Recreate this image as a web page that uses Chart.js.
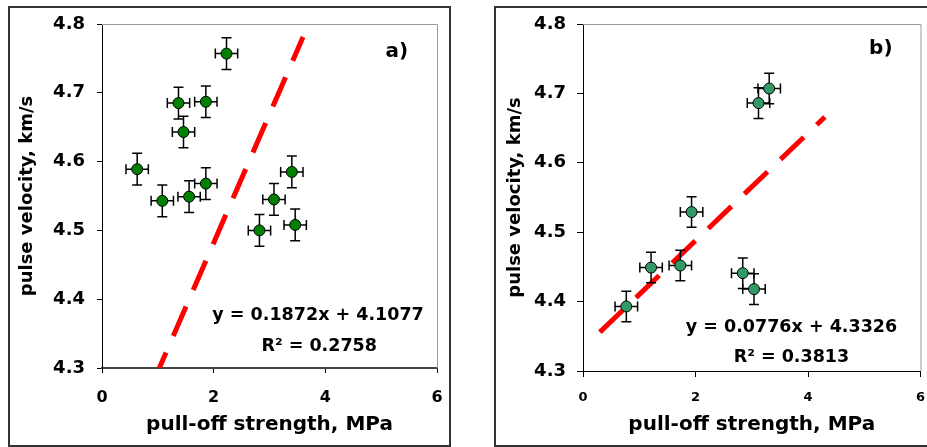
<!DOCTYPE html>
<html>
<head>
<meta charset="utf-8">
<script src="https://cdn.jsdelivr.net/npm/chart.js@4"></script>
<style>
html, body { margin: 0; padding: 0; background: #fff; overflow: hidden; }
body { width: 927px; height: 447px; position: relative; }
.frame { position: absolute; border: 2px solid #333; box-sizing: border-box; }
#frameA { left: 8px; top: 6px; width: 443px; height: 441px; }
#frameB { left: 494px; top: 6px; width: 500px; height: 441px; }
canvas { position: absolute; top: 0; }
#chartA { left: 0; }
#chartB { left: 460px; }
</style>
</head>
<body>
<div class="frame" id="frameA"></div>
<div class="frame" id="frameB"></div>
<canvas id="chartA" width="460" height="447"></canvas>
<canvas id="chartB" width="467" height="447"></canvas>
<script>
// axis ticks (same on both panels)
var xTicks = [0, 2, 4, 6];
var yTicks = [4.3, 4.4, 4.5, 4.6, 4.7, 4.8];

// panel a)
var strengthA = [2.23, 1.37, 1.86, 1.46, 0.63, 1.08, 1.56, 1.86, 2.82, 3.08, 3.40, 3.46];
var velocityA = [4.757, 4.685, 4.687, 4.643, 4.589, 4.543, 4.549, 4.568, 4.500, 4.545, 4.585, 4.508];
var errStrengthA = 0.2;
var errVelocityA = 0.023;
var trendXA = [1.027, 3.6];
var trendYA = [4.3, 4.781];

// panel b)
var strengthB = [3.31, 3.12, 1.93, 1.21, 1.73, 0.77, 2.84, 3.04];
var velocityB = [4.707, 4.686, 4.529, 4.449, 4.452, 4.393, 4.441, 4.418];
var errStrengthB = 0.2;
var errVelocityB = 0.022;
var trendXB = [0.3, 4.3];
var trendYB = [4.356, 4.666];

var FONT = "'DejaVu Sans', sans-serif";
Chart.defaults.font.family = FONT;
Chart.defaults.color = '#000';

function pts(xs, ys) {
	return xs.map(function (x, i) { return { x: x, y: ys[i] }; });
}

// gray top/right edge of the plot area
var plotFrame = {
	id: 'plotFrame',
	beforeDatasetsDraw: function (chart) {
		var a = chart.chartArea, ctx = chart.ctx;
		ctx.save();
		ctx.strokeStyle = '#999';
		ctx.lineWidth = 1;
		ctx.beginPath();
		ctx.moveTo(a.left, a.top + 0.5);
		ctx.lineTo(a.right + 0.5, a.top + 0.5);
		ctx.lineTo(a.right + 0.5, a.bottom);
		ctx.stroke();
		ctx.restore();
	}
};

// x/y error bars, drawn just before the markers
var errorBars = {
	id: 'errorBars',
	beforeDatasetDraw: function (chart, args, opts) {
		if (args.index !== 0) return;
		var sx = chart.scales.x, sy = chart.scales.y, ctx = chart.ctx, cap = 5;
		ctx.save();
		ctx.strokeStyle = '#000';
		ctx.lineWidth = 1.5;
		chart.data.datasets[0].data.forEach(function (p) {
			var px = sx.getPixelForValue(p.x), py = sy.getPixelForValue(p.y);
			var x0 = sx.getPixelForValue(p.x - opts.ex), x1 = sx.getPixelForValue(p.x + opts.ex);
			var y0 = sy.getPixelForValue(p.y - opts.ey), y1 = sy.getPixelForValue(p.y + opts.ey);
			ctx.beginPath();
			ctx.moveTo(x0, py); ctx.lineTo(x1, py);
			ctx.moveTo(px, y0); ctx.lineTo(px, y1);
			ctx.moveTo(x0, py - cap); ctx.lineTo(x0, py + cap);
			ctx.moveTo(x1, py - cap); ctx.lineTo(x1, py + cap);
			ctx.moveTo(px - cap, y0); ctx.lineTo(px + cap, y0);
			ctx.moveTo(px - cap, y1); ctx.lineTo(px + cap, y1);
			ctx.stroke();
		});
		ctx.restore();
	}
};

// panel letter and trendline equation
var notes = {
	id: 'notes',
	afterDatasetsDraw: function (chart, args, opts) {
		var sx = chart.scales.x, sy = chart.scales.y, ctx = chart.ctx;
		ctx.save();
		ctx.fillStyle = '#000';
		ctx.textAlign = 'center';
		ctx.textBaseline = 'middle';
		opts.items.forEach(function (n) {
			ctx.font = 'bold ' + n.size + 'px ' + FONT;
			ctx.fillText(n.text, sx.getPixelForValue(n.x), sy.getPixelForValue(n.y));
		});
		ctx.restore();
	}
};

function buildChart(id, p) {
	return new Chart(document.getElementById(id), {
		type: 'scatter',
		data: {
			datasets: [{
				data: pts(p.xs, p.ys),
				backgroundColor: p.color,
				borderColor: '#000',
				borderWidth: 1,
				pointRadius: 5.5
			}, {
				data: pts(p.trendX, p.trendY),
				showLine: true,
				borderColor: '#ff0000',
				borderWidth: 5,
				borderDash: [32, 18],
				borderDashOffset: p.dashOffset,
				pointRadius: 0
			}]
		},
		options: {
			responsive: false,
			animation: false,
			events: [],
			layout: { padding: { left: 0, top: 24, right: p.padRight, bottom: 0 } },
			plugins: {
				legend: { display: false },
				tooltip: { enabled: false },
				errorBars: { ex: p.errX, ey: p.errY },
				notes: { items: p.notes }
			},
			scales: {
				x: {
					type: 'linear', min: 0, max: 6,
					afterBuildTicks: function (s) { s.ticks = xTicks.map(function (v) { return { value: v }; }); },
					afterFit: function (s) { s.height = p.xHeight; s.paddingLeft = 0; s.paddingRight = 0; },
					grid: { drawOnChartArea: false, drawTicks: true, tickLength: p.xTickLen, color: '#000' },
					border: { color: p.xAxisColor, width: p.xAxisWidth },
					ticks: { padding: p.xTickPad, font: { size: p.xTickSize, weight: 'bold' }, color: '#000' },
					title: { display: true, text: 'pull-off strength, MPa', font: { size: 20, weight: 'bold' }, padding: { top: 0, bottom: 10 }, color: '#000' }
				},
				y: {
					type: 'linear', min: 4.3, max: 4.8,
					afterBuildTicks: function (s) { s.ticks = yTicks.map(function (v) { return { value: v }; }); },
					afterFit: function (s) { s.width = p.yWidth; s.paddingTop = 0; s.paddingBottom = 0; },
					grid: { drawOnChartArea: false, drawTicks: true, tickLength: p.yTickLen, color: '#000' },
					border: { color: '#000', width: 1 },
					ticks: {
						padding: p.yTickPad, font: { size: 18, weight: 'bold' }, color: '#000',
						callback: function (v) { return v.toFixed(1); }
					},
					title: { display: true, text: 'pulse velocity, km/s', font: { size: 18, weight: 'bold' }, padding: { top: p.yTitlePad, bottom: 0 }, color: '#000' }
				}
			}
		},
		plugins: [plotFrame, errorBars, notes]
	});
}

buildChart('chartA', {
	xs: strengthA, ys: velocityA, errX: errStrengthA, errY: errVelocityA,
	trendX: trendXA, trendY: trendYA, dashOffset: 15,
	color: '#008000',
	padRight: 23, xHeight: 79, yWidth: 102,
	xTickLen: 5, xTickPad: 15, xTickSize: 16, xAxisColor: '#444', xAxisWidth: 2,
	yTickLen: 5, yTickPad: 12, yTitlePad: 17,
	notes: [
		{ text: 'a)', x: 5.28, y: 4.759, size: 20 },
		{ text: 'y = 0.1872x + 4.1077', x: 3.87, y: 4.377, size: 17.5 },
		{ text: 'R\u00b2 = 0.2758', x: 3.89, y: 4.331, size: 17.5 }
	]
});

buildChart('chartB', {
	xs: strengthB, ys: velocityB, errX: errStrengthB, errY: errVelocityB,
	trendX: trendXB, trendY: trendYB, dashOffset: 0,
	color: '#339966',
	padRight: 4, xHeight: 76, yWidth: 123,
	xTickLen: 6, xTickPad: 13, xTickSize: 13, xAxisColor: '#000', xAxisWidth: 1,
	yTickLen: 6, yTickPad: 11, yTitlePad: 45,
	notes: [
		{ text: 'b)', x: 5.294, y: 4.764, size: 20 },
		{ text: 'y = 0.0776x + 4.3326', x: 3.706, y: 4.363, size: 17.5 },
		{ text: 'R\u00b2 = 0.3813', x: 3.706, y: 4.32, size: 17.5 }
	]
});
</script>
</body>
</html>
